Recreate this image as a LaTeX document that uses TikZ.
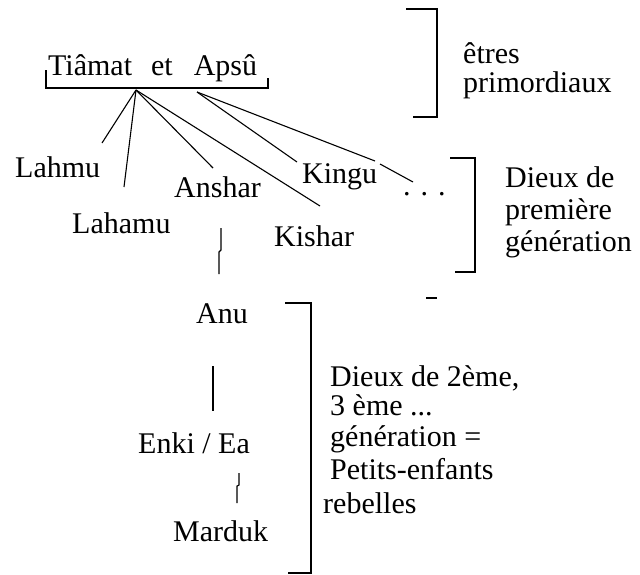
\documentclass[tikz,border=0pt]{standalone}
\usepackage{fontspec}
\setmainfont{Liberation Serif}
\begin{document}
\begin{tikzpicture}[x=1pt,y=-1pt,
  lbl/.style={anchor=base west, inner sep=0pt, font=\fontsize{30}{34}\selectfont},
  conn/.style={line width=1.1pt},
  brk/.style={line width=1.6pt}]
\useasboundingbox (0,0) rectangle (640,574);
\fill[white] (0,0) rectangle (640,574);

% nodes
\node[lbl] (ta) at (48,75) {Tiâmat\hspace{19pt}et\hspace{21pt}Apsû};
\node[lbl] (lahmu) at (15,177) {Lahmu};
\node[lbl] (lahamu) at (72,233) {Lahamu};
\node[lbl] (anshar) at (174,197) {Anshar};
\node[lbl] (kingu) at (302,183) {Kingu};
\node[lbl] (dots) at (403,195) {. . .};
\node[lbl] (kishar) at (274,246) {Kishar};
\node[lbl] (anu) at (196,323) {Anu};
\node[lbl] (enki) at (138,453) {Enki / Ea};
\node[lbl] (marduk) at (173,541) {Marduk};

% group labels
\node[lbl] (g0a) at (463,63) {êtres};
\node[lbl] (g0b) at (463,92) {primordiaux};
\node[lbl] (g1a) at (505,187) {Dieux de};
\node[lbl] (g1b) at (505,219) {première};
\node[lbl] (g1c) at (505,251) {génération};
\node[lbl] (g2a) at (330,386) {Dieux de 2ème,};
\node[lbl] (g2b) at (330,415) {3 ème ...};
\node[lbl] (g2c) at (330,446) {génération =};
\node[lbl] (g2d) at (330,479) {Petits-enfants};
\node[lbl] (g2e) at (323,513) {rebelles};

% brackets
\draw[brk] (46,70) -- (46,88) -- (268,88) -- (268,78);
\draw[brk] (406,9) -- (437,9) -- (437,117) -- (413,117);
\draw[brk] (450,158) -- (475,158) -- (475,272) -- (455,272);
\draw[brk] (285,303) -- (311,303) -- (311,573) -- (288,573);
\draw[brk] (426,298) -- (437,298);

% connector end points
\coordinate (r1) at (136,90);
\coordinate (r2) at (197,92);
\coordinate (lahmu-t) at (102,143);
\coordinate (lahamu-t) at (124,187);
\coordinate (anshar-t) at (213,168);
\coordinate (kishar-t) at (320,206);
\coordinate (kingu-t) at (297,162);
\coordinate (dots-m1) at (375,161);
\coordinate (dots-m2) at (380,164);
\coordinate (dots-t) at (413,182);
\coordinate (anshar-b) at (221,228);
\coordinate (anu-t) at (219,274);
\coordinate (anu-b) at (213,366);
\coordinate (enki-t) at (213,411);
\coordinate (enki-b) at (239,473);
\coordinate (marduk-t) at (237,503);

% connectors
\draw[conn] (r1) -- (lahmu-t);
\draw[conn] (r1) -- (lahamu-t);
\draw[conn] (r1) -- (anshar-t);
\draw[conn] (r1) -- (kishar-t);
\draw[conn] (r2) -- (kingu-t);
\draw[conn] (r2) -- (dots-m1);
\draw[conn] (dots-m2) -- (dots-t);
\draw[conn] (anshar-b) -- ++(0,22) -- ++(-2,2) -- (anu-t);
\draw[conn] (anu-b) -- (enki-t);
\draw[conn] (enki-b) -- ++(0,12) -- ++(-2,1) -- (marduk-t);
\end{tikzpicture}
\end{document}
